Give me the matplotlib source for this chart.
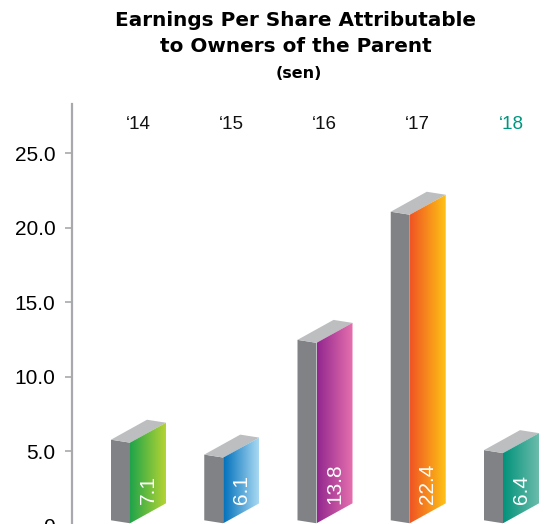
import numpy as np
import matplotlib
matplotlib.use("Agg")
import matplotlib.pyplot as plt
from matplotlib.patches import Polygon
from matplotlib.colors import LinearSegmentedColormap

# ---------------- data ----------------
years = ["\u201814", "\u201815", "\u201816", "\u201817", "\u201818"]
eps = [7.1, 6.1, 13.8, 22.4, 6.4]
left_colors = ["#1fa44a", "#0070bb", "#92278f", "#f05423", "#00927b"]
right_colors = ["#b6d433", "#a9d9f2", "#e670ae", "#fdc316", "#6cbcab"]
year_colors = ["#111111", "#111111", "#111111", "#111111", "#00957f"]
yticks = [0, 5, 10, 15, 20, 25]
ytick_labels = ["0", "5.0", "10.0", "15.0", "20.0", "25.0"]

# ---------------- geometry (x in pixels from the axis, y in sen) ----------------
step = 93.25          # spacing between bars
first = 39            # left edge of first bar
side_w = 19           # grey side face width
front_w = 36          # coloured front face width
rise = 1.34           # slope of the front face over its width
drop = 0.2            # slope of the side face over its width
base = 0.35

side_col = "#808285"
top_col = "#bcbec0"

fig = plt.figure(figsize=(5.49, 5.24), dpi=100)
ax = fig.add_axes([72 / 549, -10 / 524, 477 / 549, 430 / 524])

for i, v in enumerate(eps):
    x0 = first + i * step
    h = v - rise  # height of the front-left top corner
    A = (x0, h)
    B = (x0 + side_w, h - drop)
    C = (x0 + side_w + front_w, h - drop + rise)
    D = (x0 + front_w, h + rise)
    Ab = (x0, base)
    Bb = (x0 + side_w, base - drop)
    Cb = (x0 + side_w + front_w, base - drop + rise)

    # grey side
    ax.add_patch(Polygon([Ab, A, B, Bb], closed=True, fc=side_col, ec="none", zorder=2))
    # top
    ax.add_patch(Polygon([A, D, C, B], closed=True, fc=top_col, ec="none", zorder=2))
    # coloured front with gradient
    front = Polygon([Bb, B, C, Cb], closed=True, fc="none", ec="none", zorder=2)
    ax.add_patch(front)
    cmap = LinearSegmentedColormap.from_list("g%d" % i, [left_colors[i], right_colors[i]])
    grad = np.linspace(0, 1, 256).reshape(1, -1)
    im = ax.imshow(grad, cmap=cmap, aspect="auto", interpolation="bilinear",
                   extent=(B[0], C[0], Bb[1], C[1]), zorder=2)
    im.set_clip_path(front)

    # value label
    ax.text(x0 + side_w + front_w / 2, 1.45, "%.1f" % v, rotation=90,
            rotation_mode="anchor", ha="left", va="center", color="white",
            fontsize=15, family="Liberation Sans", zorder=3)
    # year label
    ax.text(x0 + 27, 26.9, years[i], ha="center", va="center", color=year_colors[i],
            fontsize=13.5, family="Liberation Sans", zorder=3)

ax.set_xlim(0, 477)
ax.set_ylim(-0.57, 28.29)

for s in ["top", "right", "bottom"]:
    ax.spines[s].set_visible(False)
ax.spines["left"].set_color("#a7a9ac")
ax.spines["left"].set_linewidth(1.6)
ax.set_xticks([])
ax.set_yticks(yticks)
ax.set_yticklabels(ytick_labels, family="Liberation Sans", fontsize=15)
ax.tick_params(axis="y", length=5, width=1.2, color="#a7a9ac", pad=7)
ax.patch.set_alpha(0)

fig.text(0.539, 1 - 21 / 524, "Earnings Per Share Attributable", ha="center", va="center",
         fontsize=14.4, fontweight="bold", family="DejaVu Sans")
fig.text(0.539, 1 - 46 / 524, "to Owners of the Parent", ha="center", va="center",
         fontsize=14.4, fontweight="bold", family="DejaVu Sans")
fig.text(0.545, 1 - 73 / 524, "(sen)", ha="center", va="center",
         fontsize=11.5, fontweight="bold", family="DejaVu Sans")

fig.savefig("out.png", dpi=100)
